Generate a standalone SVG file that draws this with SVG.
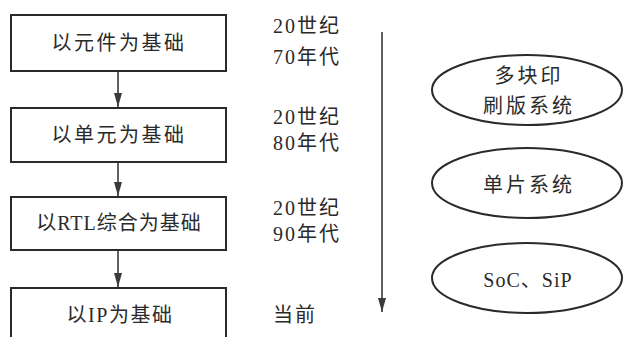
<svg xmlns="http://www.w3.org/2000/svg" width="623" height="337" viewBox="0 0 623 337">
<style>
.box{fill:none;stroke:#2a2a2a;stroke-width:2}
.ell{fill:none;stroke:#2a2a2a;stroke-width:2}
.t{font-family:"Liberation Serif","Noto Sans CJK SC",serif;font-size:20px;fill:#2a2a2a;dominant-baseline:central}
.bt{text-anchor:middle;letter-spacing:2.5px}
.et{text-anchor:middle;letter-spacing:3px}
.tm{letter-spacing:2px}
.ln{stroke:#3a3a3a;stroke-width:1.6;fill:none}
</style>
<defs>
<marker id="ah" markerWidth="14" markerHeight="8" refX="14" refY="4" orient="auto" markerUnits="userSpaceOnUse" viewBox="0 0 14 8">
<path d="M0,0 L14,4 L0,8 Z" fill="#3a3a3a"/>
</marker>
</defs>
<rect width="623" height="337" fill="#ffffff"/>
<g id="connectors">
<line class="ln" x1="118" y1="71" x2="118" y2="107" marker-end="url(#ah)"/>
<line class="ln" x1="118" y1="162" x2="118" y2="196" marker-end="url(#ah)"/>
<line class="ln" x1="118" y1="250" x2="118" y2="287" marker-end="url(#ah)"/>
<line class="ln" x1="382" y1="32" x2="382" y2="312" marker-end="url(#ah)"/>
</g>
<g id="n1"><rect class="box" x="11" y="15" width="215" height="56"/><text class="t bt" x="119" y="43">以元件为基础</text></g>
<g id="n2"><rect class="box" x="11" y="108" width="215" height="54"/><text class="t bt" x="119" y="135">以单元为基础</text></g>
<g id="n3"><rect class="box" x="11" y="197" width="215" height="53"/><text class="t bt" x="119" y="223" style="letter-spacing:1px">以RTL综合为基础</text></g>
<g id="n4"><rect class="box" x="11" y="288" width="215" height="60"/><text class="t bt" x="120" y="315" style="letter-spacing:1.5px">以IP为基础</text></g>
<g id="time">
<text class="t tm" x="273" y="26">20世纪</text>
<text class="t tm" x="273" y="57">70年代</text>
<text class="t tm" x="273" y="117">20世纪</text>
<text class="t tm" x="273" y="143">80年代</text>
<text class="t tm" x="273" y="208">20世纪</text>
<text class="t tm" x="273" y="234">90年代</text>
<text class="t tm" x="273" y="315">当前</text>
</g>
<g id="e1"><ellipse class="ell" cx="527" cy="90" rx="95" ry="35"/><text class="t et" x="529" y="76">多块印</text><text class="t et" x="529" y="106">刷版系统</text></g>
<g id="e2"><ellipse class="ell" cx="527" cy="183" rx="95" ry="35"/><text class="t et" x="529" y="185">单片系统</text></g>
<g id="e3"><ellipse class="ell" cx="527" cy="278" rx="95" ry="35"/><text class="t et" x="528" y="280" style="letter-spacing:1px">SoC、SiP</text></g>
</svg>
